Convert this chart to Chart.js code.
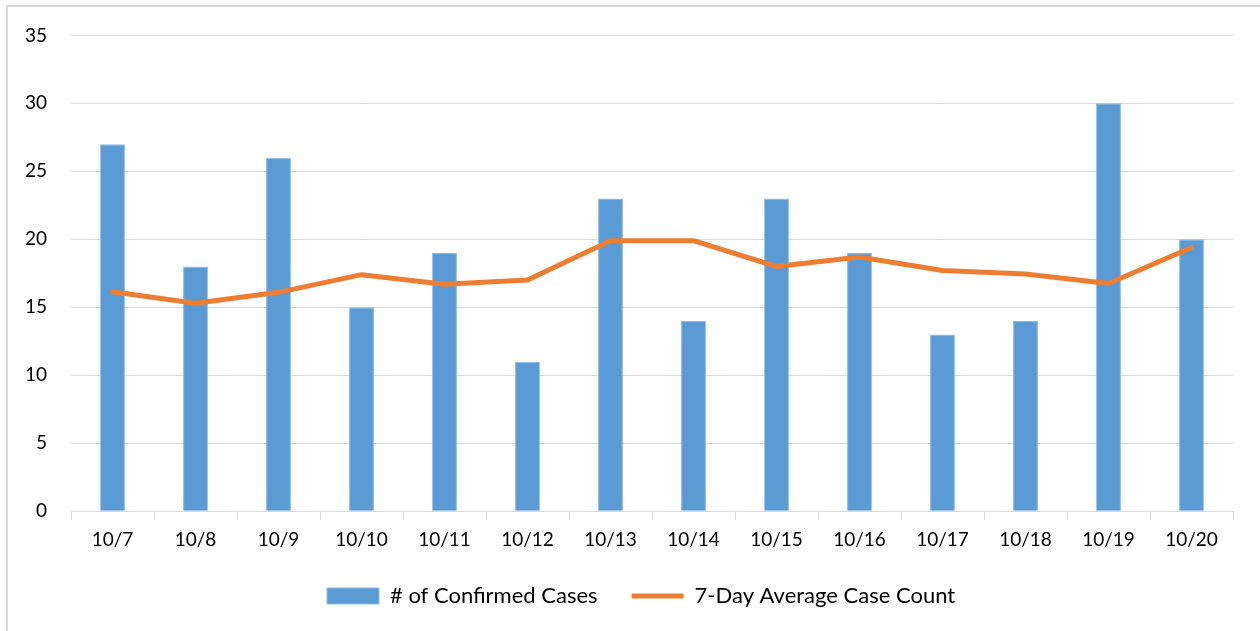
<!DOCTYPE html>
<html>
<head>
<meta charset="utf-8">
<script src="https://cdn.jsdelivr.net/npm/chart.js@4/dist/chart.umd.min.js"></script>
<style>
html,body{margin:0;padding:0;background:#fff;}
#wrap{position:relative;width:1260px;height:631px;overflow:hidden;}
#frame{position:absolute;left:6px;top:5px;width:1300px;height:700px;border:2px solid #d9d9d9;box-sizing:border-box;}
canvas{position:absolute;left:0;top:0;}
</style>
</head>
<body>
<div id="wrap"><div id="frame"></div><canvas id="c" width="1260" height="631"></canvas></div>
<script>
const categories = ['10/7','10/8','10/9','10/10','10/11','10/12','10/13','10/14','10/15','10/16','10/17','10/18','10/19','10/20'];
const confirmedCases = [27,18,26,15,19,11,23,14,23,19,13,14,30,20];
const sevenDayAverage = [16.15,15.3,16.1,17.4,16.7,17.0,19.9,19.9,18.0,18.7,17.7,17.45,16.75,19.4];
const yTicks = [0,5,10,15,20,25,30,35];

const FONT = 'Lato, "Open Sans", sans-serif';
Chart.defaults.font.family = FONT;
Chart.defaults.color = '#000';

const LEGEND_START = 327;
const legendShift = {
  id: 'legendShift',
  afterLayout(chart) {
    const lg = chart.legend;
    if (!lg) return;
    const w = lg.right - lg.left;
    lg.left = LEGEND_START - lg.options.labels.padding;
    lg.right = lg.left + w;
    if (lg.adjustHitBoxes) lg.adjustHitBoxes();
  }
};

new Chart(document.getElementById('c'), {
  type: 'bar',
  plugins: [legendShift],
  data: {
    labels: categories,
    datasets: [
      {
        type: 'line',
        label: '7-Day Average Case Count',
        data: sevenDayAverage,
        borderColor: '#ED7D31',
        backgroundColor: '#ED7D31',
        borderWidth: 5,
        pointRadius: 0,
        tension: 0,
        borderCapStyle: 'round',
        borderJoinStyle: 'round',
        pointStyle: 'line',
        order: 0
      },
      {
        type: 'bar',
        label: '# of Confirmed Cases',
        data: confirmedCases,
        backgroundColor: '#5B9BD5',
        borderColor: '#8FBBE6',
        borderWidth: 1,
        barPercentage: 0.30,
        categoryPercentage: 1.0,
        pointStyle: 'rect',
        order: 1
      }
    ]
  },
  options: {
    responsive: false,
    animation: false,
    layout: { padding: { left: 0, right: 27, top: 25, bottom: 14 } },
    plugins: {
      tooltip: { enabled: false },
      legend: {
        position: 'bottom',
        align: 'start',
        reverse: true,
        labels: {
          usePointStyle: true,
          pointStyleWidth: 52,
          boxWidth: 52,
          boxHeight: 16,
          padding: 34,
          font: { size: 22, family: FONT },
          color: '#000'
        }
      }
    },
    scales: {
      x: {
        offset: true,
        afterFit: (scale) => { scale.height -= 8; },
        grid: { display: true, drawOnChartArea: false, drawTicks: true, tickLength: 9, color: '#d9d9d9', offset: true },
        border: { display: true, color: '#d9d9d9', width: 1 },
        ticks: { font: { size: 19, family: FONT }, color: '#000', padding: 8, maxRotation: 0, autoSkip: false }
      },
      y: {
        min: 0,
        max: 35,
        afterBuildTicks: (scale) => { scale.ticks = yTicks.map(v => ({ value: v })); },
        afterFit: (scale) => { scale.width = 71; },
        grid: { color: '#d9d9d9', lineWidth: 1, drawTicks: false },
        border: { display: false },
        ticks: { font: { size: 19, family: FONT }, color: '#000', padding: 24 }
      }
    }
  }
});
</script>
</body>
</html>
